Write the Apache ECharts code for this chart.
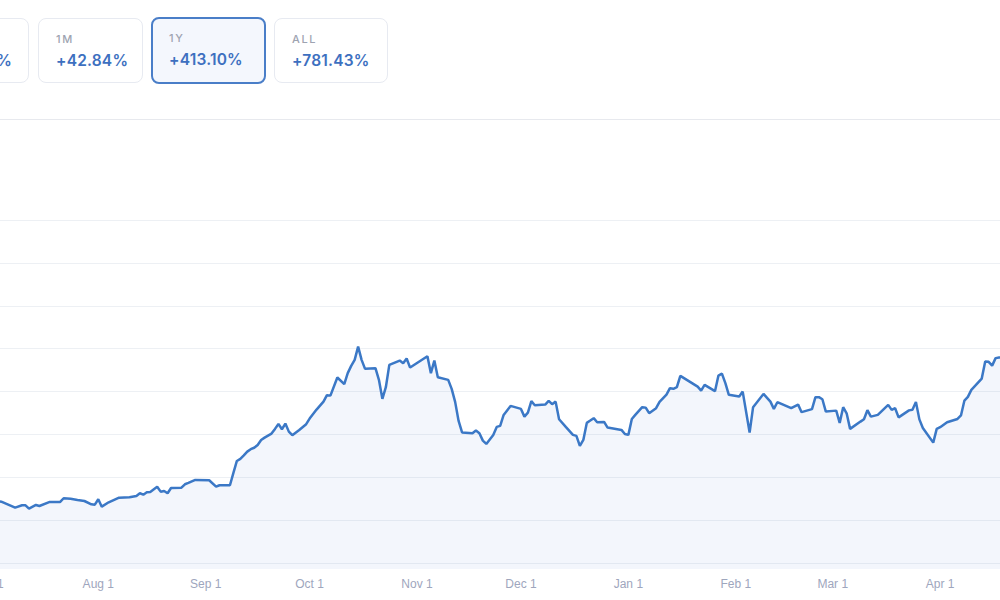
<!DOCTYPE html>
<html>
<head>
<meta charset="utf-8">
<script src="https://cdn.jsdelivr.net/npm/echarts@6/dist/echarts.min.js"></script>
<style>
  html,body{margin:0;padding:0;background:#fff;width:1000px;height:600px;overflow:hidden;}
  #chart{position:absolute;left:0;top:0;width:1000px;height:600px;}
  #sep{position:absolute;left:0;top:119px;width:1000px;height:1px;background:#e7e9ee;}
  .card{position:absolute;top:18px;height:65px;box-sizing:border-box;border:1px solid #e7eaf1;border-radius:8px;background:#fff;font-family:Inter,"Noto Sans",sans-serif;white-space:nowrap;padding:13px 16px 0 17px;}
  .card .lb{display:block;font-size:11px;line-height:14px;font-weight:500;letter-spacing:1.6px;color:#9ea3b1;}
  .card .vl{display:block;margin-top:5px;font-size:15.5px;line-height:20px;font-weight:600;letter-spacing:0.2px;color:#3d70c0;}
  .card.sel{top:17px;height:67px;border:2px solid #4a7ec8;background:#f4f7fd;padding:12px 16px 0 16px;}
</style>
</head>
<body>
<div id="chart"></div>
<div id="sep"></div>
<div class="card" style="right:971px;"><span class="lb">1W</span><span class="vl">+19.62%</span></div>
<div class="card" style="left:38px;width:105px;"><span class="lb">1M</span><span class="vl">+42.84%</span></div>
<div class="card sel" style="left:151px;width:115px;"><span class="lb">1Y</span><span class="vl">+413.10%</span></div>
<div class="card" style="left:274px;width:114px;"><span class="lb">ALL</span><span class="vl">+781.43%</span></div>
<script>
// Axis range (daily categories)
const rangeStart = '2024-06-28';
const rangeEnd = '2025-04-20';
const monthNames = ['Jan','Feb','Mar','Apr','May','Jun','Jul','Aug','Sep','Oct','Nov','Dec'];

// Series vertices
const dates = [
'2024-06-28','2024-07-04','2024-07-08','2024-07-10','2024-07-11','2024-07-12','2024-07-14','2024-07-15','2024-07-18','2024-07-21',
'2024-07-22','2024-07-24','2024-07-26','2024-07-28','2024-07-30','2024-07-31','2024-08-01','2024-08-02','2024-08-04','2024-08-07',
'2024-08-10','2024-08-12','2024-08-13','2024-08-14','2024-08-15','2024-08-16','2024-08-18','2024-08-19','2024-08-20','2024-08-21',
'2024-08-22','2024-08-25','2024-08-26','2024-08-27','2024-08-29','2024-09-02','2024-09-04','2024-09-05','2024-09-08','2024-09-09',
'2024-09-10','2024-09-11','2024-09-12','2024-09-13','2024-09-14','2024-09-15','2024-09-16','2024-09-17','2024-09-18','2024-09-20',
'2024-09-21','2024-09-22','2024-09-23','2024-09-24','2024-09-25','2024-09-26','2024-09-28','2024-09-30','2024-10-01','2024-10-03',
'2024-10-05','2024-10-06','2024-10-07','2024-10-09','2024-10-11','2024-10-12','2024-10-13','2024-10-14','2024-10-15','2024-10-16',
'2024-10-17','2024-10-20','2024-10-21','2024-10-22','2024-10-23','2024-10-24','2024-10-27','2024-10-28','2024-10-29','2024-10-30',
'2024-11-04','2024-11-05','2024-11-06','2024-11-07','2024-11-10','2024-11-11','2024-11-12','2024-11-13','2024-11-14','2024-11-17',
'2024-11-18','2024-11-19','2024-11-20','2024-11-21','2024-11-23','2024-11-24','2024-11-25','2024-11-26','2024-11-28','2024-12-01',
'2024-12-02','2024-12-03','2024-12-04','2024-12-05','2024-12-08','2024-12-09','2024-12-10','2024-12-11','2024-12-12','2024-12-14',
'2024-12-16','2024-12-17','2024-12-18','2024-12-19','2024-12-20','2024-12-21','2024-12-22','2024-12-23','2024-12-25','2024-12-26',
'2024-12-30','2024-12-31','2025-01-01','2025-01-02','2025-01-03','2025-01-05','2025-01-06','2025-01-07','2025-01-09','2025-01-10',
'2025-01-12','2025-01-13','2025-01-14','2025-01-15','2025-01-16','2025-01-21','2025-01-22','2025-01-23','2025-01-26','2025-01-27',
'2025-01-28','2025-01-29','2025-01-30','2025-02-02','2025-02-03','2025-02-05','2025-02-06','2025-02-09','2025-02-11','2025-02-12',
'2025-02-13','2025-02-17','2025-02-19','2025-02-20','2025-02-23','2025-02-24','2025-02-25','2025-02-26','2025-02-27','2025-03-02',
'2025-03-03','2025-03-04','2025-03-05','2025-03-06','2025-03-09','2025-03-10','2025-03-11','2025-03-12','2025-03-14','2025-03-17',
'2025-03-18','2025-03-19','2025-03-20','2025-03-23','2025-03-24','2025-03-25','2025-03-26','2025-03-27','2025-03-30','2025-03-31',
'2025-04-01','2025-04-03','2025-04-06','2025-04-07','2025-04-08','2025-04-09','2025-04-10','2025-04-13','2025-04-14','2025-04-15',
'2025-04-16','2025-04-17','2025-04-18','2025-04-20'
];
const values = [
176.0,171.5,164.5,167.3,167.3,163.4,167.7,166.5,171.2,171.2,
175.5,175.0,173.5,172.3,168.5,168.0,174.3,165.7,170.8,176.2,
176.7,178.2,181.3,179.7,182.5,182.9,189.0,183.2,184.0,181.3,
187.5,187.9,191.8,193.4,196.9,196.5,189.0,190.7,190.7,205.0,
219.0,221.4,225.5,229.9,232.7,234.4,237.7,243.5,246.2,250.9,
256.4,262.2,256.0,262.6,253.2,249.0,255.2,261.9,268.4,278.9,
288.2,295.7,295.2,316.3,308.5,321.4,329.9,336.9,352.4,336.9,
326.4,327.2,313.6,291.4,305.0,331.1,336.1,333.0,338.4,327.9,
341.2,321.4,336.1,316.7,313.6,303.1,287.9,265.7,252.3,251.4,
254.6,251.4,242.7,238.9,249.4,258.7,259.9,272.7,283.2,279.7,
270.7,275.4,288.7,284.0,284.7,289.1,285.2,288.2,267.7,258.4,
249.4,248.2,236.5,243.5,263.4,266.1,268.9,264.2,264.5,257.9,
255.2,250.5,249.4,268.0,272.7,281.7,281.2,274.7,280.5,287.9,
296.4,303.9,303.1,305.0,318.2,305.7,301.1,307.7,300.4,318.6,
320.9,309.7,296.1,294.1,299.9,252.1,281.7,297.2,288.2,279.7,
287.5,280.5,284.7,275.9,279.4,293.4,293.4,291.0,276.6,277.7,
263.4,281.7,274.6,256.4,264.9,267.7,278.2,270.7,272.7,284.4,
278.6,280.5,269.8,278.0,278.6,287.9,267.5,257.5,240.4,256.4,
258.4,264.2,268.0,272.1,289.4,293.7,301.9,315.1,334.9,334.6,
330.2,338.9,339.6,340.0
];

// y-axis scale (labels hidden in the picture)
const yMin = 100, yMax = 500, yStep = 50, fillBase = 93;

function dayList(a, b) {
  const out = [];
  let t = Date.UTC(+a.slice(0,4), +a.slice(5,7)-1, +a.slice(8,10));
  const e = Date.UTC(+b.slice(0,4), +b.slice(5,7)-1, +b.slice(8,10));
  while (t <= e) { out.push(new Date(t).toISOString().slice(0,10)); t += 86400000; }
  return out;
}
const categories = dayList(rangeStart, rangeEnd);

const chart = echarts.init(document.getElementById('chart'), null, {renderer: 'svg', width: 1000, height: 600});
chart.setOption({
  animation: false,
  grid: {left: -19.5, right: -6, top: 220, bottom: 37, containLabel: false, outerBoundsMode: 'none'},
  xAxis: {
    type: 'category', data: categories, boundaryGap: false,
    axisLine: {show: false}, axisTick: {show: false}, splitLine: {show: false},
    axisLabel: {
      interval: (i, v) => v.slice(8,10) === '01',
      formatter: v => monthNames[+v.slice(5,7)-1] + ' ' + (+v.slice(8,10)),
      color: '#9ea6bd', fontSize: 12, fontFamily: '"Liberation Sans", Arial, sans-serif', margin: 15,
      hideOverlap: false
    }
  },
  yAxis: {
    type: 'value', min: yMin, max: yMax, interval: yStep,
    axisLabel: {show: false}, axisLine: {show: false}, axisTick: {show: false},
    splitLine: {lineStyle: {color: '#edf0f4', width: 1}}
  },
  series: [{
    type: 'line', data: dates.map((d, i) => [d, values[i]]),
    symbol: 'none', clip: false,
    lineStyle: {color: '#3b78c6', width: 2.5},
    areaStyle: {color: 'rgba(70,110,210,0.09)', origin: fillBase}
  }]
});
</script>
</body>
</html>
